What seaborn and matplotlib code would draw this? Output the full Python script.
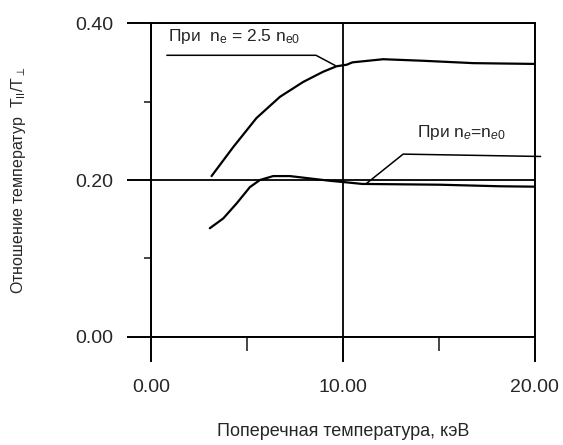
import numpy as np
import pandas as pd
import matplotlib
matplotlib.use('Agg')
import matplotlib.pyplot as plt
import seaborn as sns
from matplotlib.ticker import MultipleLocator

# Кривая при n_e = 2.5 n_e0
x_25 = [3.16, 4.29, 5.50, 6.72, 7.93, 8.97, 9.67, 10.2, 10.5, 10.9, 12.1, 14.2, 16.8, 20.0]
y_25 = [0.205, 0.242, 0.279, 0.306, 0.325, 0.338, 0.345, 0.347, 0.350, 0.351, 0.354, 0.352, 0.349, 0.348]

# Кривая при n_e = n_e0
x_1 = [3.07, 3.77, 4.46, 5.16, 5.68, 6.37, 7.24, 8.28, 9.32, 10.19, 11.0, 15.05, 18.2, 20.0]
y_1 = [0.1385, 0.151, 0.170, 0.191, 0.200, 0.205, 0.205, 0.202, 0.199, 0.197, 0.195, 0.194, 0.192, 0.1915]

# выноски подписей
lead_25_x = [0.83, 8.6, 9.6]
lead_25_y = [0.359, 0.359, 0.346]
lead_1_x = [11.2, 13.14, 20.3]
lead_1_y = [0.195, 0.233, 0.230]

x_ticks = [0, 10, 20]
y_ticks = [0.0, 0.2, 0.4]

sns.set_theme(style='white')
plt.rcParams['font.family'] = ['Liberation Sans', 'DejaVu Sans']
plt.rcParams['mathtext.fontset'] = 'custom'
plt.rcParams['mathtext.rm'] = 'Liberation Sans'
plt.rcParams['mathtext.it'] = 'Liberation Sans:italic'

fig = plt.figure(figsize=(5.63, 4.45), dpi=100)
ax = fig.add_axes([0.268, 0.243, 0.682, 0.705])

df25 = pd.DataFrame({'x': x_25, 'y': y_25})
df1 = pd.DataFrame({'x': x_1, 'y': y_1})
sns.lineplot(data=df25, x='x', y='y', color='black', lw=1.6, sort=False, estimator=None, ax=ax)
sns.lineplot(data=df1, x='x', y='y', color='black', lw=1.6, sort=False, estimator=None, ax=ax)

ax.plot(lead_25_x, lead_25_y, color='black', lw=1.1, clip_on=False)
ax.plot(lead_1_x, lead_1_y, color='black', lw=1.1, clip_on=False)

ax.text(0.9, 0.3835, r'При  $\mathrm{n}_{\mathrm{e}}$ = 2.5 $\mathrm{n}_{\mathrm{e0}}$',
        fontsize=12.5, va='center', ha='left')
ax.text(13.85, 0.26, r'При $\mathrm{n}_{e}$=$\mathrm{n}_{e0}$',
        fontsize=12.5, va='center', ha='left')

ax.set_xlim(0, 20)
ax.set_ylim(0, 0.40)
ax.set_xticks(x_ticks)
ax.set_yticks(y_ticks)
ax.set_xticklabels([f'{v:.2f}' for v in x_ticks])
ax.set_yticklabels([f'{v:.2f}' for v in y_ticks])
ax.xaxis.set_minor_locator(MultipleLocator(5))
ax.yaxis.set_minor_locator(MultipleLocator(0.1))

ax.tick_params(axis='x', which='major', direction='out', length=18, width=1.4, pad=12,
               labelsize=14, bottom=True, color='black')
ax.tick_params(axis='y', which='major', direction='out', length=17, width=1.4, pad=10,
               labelsize=14, left=True, color='black')
ax.tick_params(axis='x', which='minor', direction='out', length=10, width=1.2, bottom=True)
ax.tick_params(axis='y', which='minor', direction='out', length=5, width=1.2, left=True)

ax.grid(True, which='major', color='black', lw=1.3)
for s in ax.spines.values():
    s.set_visible(True)
    s.set_color('black')
    s.set_linewidth(1.4)

ax.set_xlabel('Поперечная температура, кэВ', fontsize=13, labelpad=20)
ax.set_ylabel(r'Отношение температур  $\mathrm{T}_{\mathrm{II}}/\mathrm{T}_{\perp}$',
              fontsize=11.5, labelpad=34)

fig.savefig('out.png', dpi=100, facecolor='white')
